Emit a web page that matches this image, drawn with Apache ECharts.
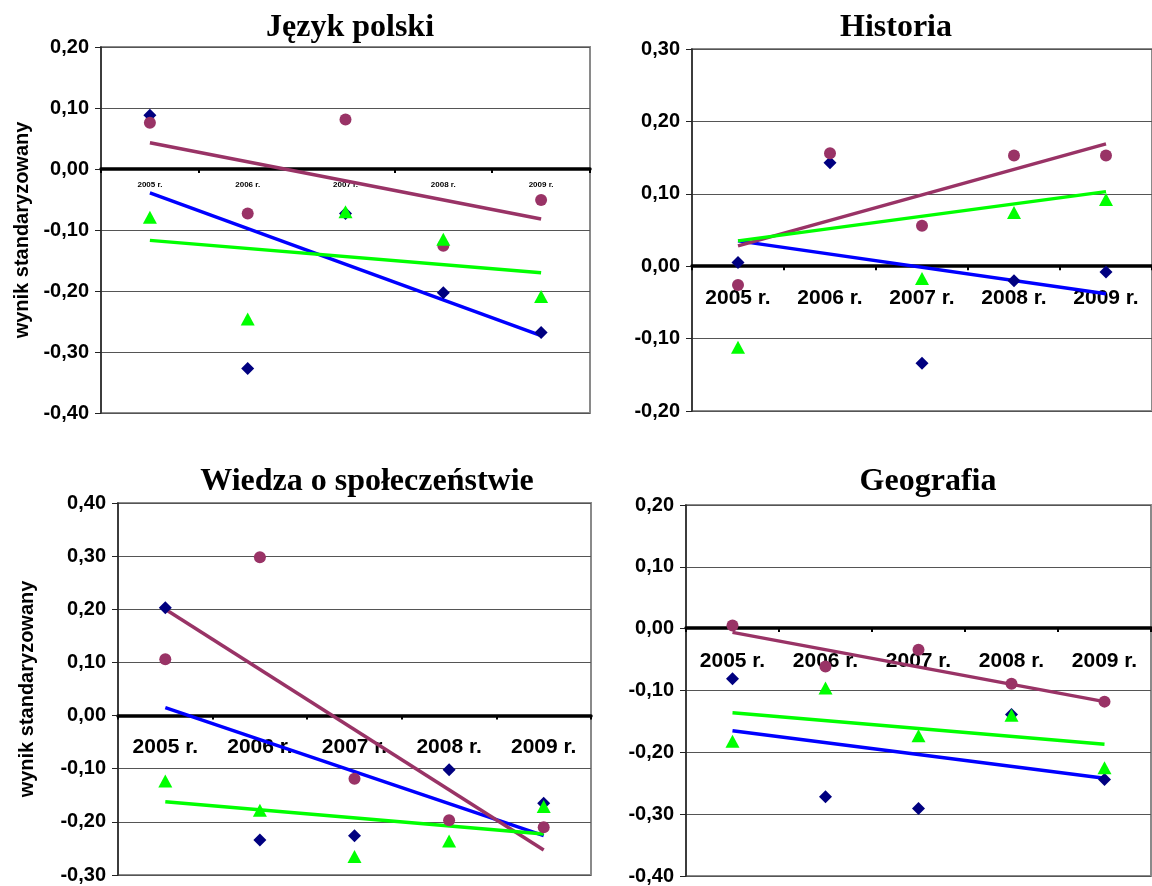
<!DOCTYPE html>
<html>
<head>
<meta charset="utf-8">
<script src="https://cdn.jsdelivr.net/npm/echarts@6/dist/echarts.min.js"></script>
<style>html,body{margin:0;padding:0;background:#fff}#c{width:1152px;height:886px}</style>
</head>
<body>
<div id="c"></div>
<script>
// ---- data ----
const categories = ['2005 r.', '2006 r.', '2007 r.', '2008 r.', '2009 r.'];
const panelTitles = ['Język polski', 'Historia', 'Wiedza o społeczeństwie', 'Geografia'];
const yAxisTitle = 'wynik standaryzowany';

// Język polski
const polskiRange = [-0.4, 0.2];
const polskiDiamond = [0.088, -0.327, -0.073, -0.203, -0.268];
const polskiCircle = [0.076, -0.073, 0.081, -0.126, -0.051];
const polskiTriangle = [-0.079, -0.246, -0.070, -0.115, -0.209];
const polskiTrendDiamond = [-0.039, -0.273];
const polskiTrendCircle = [0.043, -0.082];
const polskiTrendTriangle = [-0.117, -0.170];

// Historia
const historiaRange = [-0.2, 0.3];
const historiaDiamond = [0.005, 0.143, -0.134, -0.020, -0.008];
const historiaCircle = [-0.026, 0.156, 0.056, 0.153, 0.153];
const historiaTriangle = [-0.112, null, -0.017, 0.074, 0.092];
const historiaTrendDiamond = [0.035, -0.038];
const historiaTrendCircle = [0.028, 0.169];
const historiaTrendTriangle = [0.035, 0.103];

// Wiedza o społeczeństwie
const wosRange = [-0.3, 0.4];
const wosDiamond = [0.203, -0.234, -0.226, -0.102, -0.165];
const wosCircle = [0.106, 0.298, -0.119, -0.197, -0.210];
const wosTriangle = [-0.123, -0.178, -0.265, -0.236, -0.171];
const wosTrendDiamond = [0.015, -0.226];
const wosTrendCircle = [0.200, -0.253];
const wosTrendTriangle = [-0.162, -0.223];

// Geografia
const geoRange = [-0.4, 0.2];
const geoDiamond = [-0.081, -0.272, -0.291, -0.139, -0.244];
const geoCircle = [0.005, -0.061, -0.034, -0.089, -0.118];
const geoTriangle = [-0.182, -0.096, -0.173, -0.140, -0.225];
const geoTrendDiamond = [-0.165, -0.242];
const geoTrendCircle = [-0.006, -0.118];
const geoTrendTriangle = [-0.136, -0.187];

// ---- layout / style ----
const NAVY = '#000080', MAROON = '#993366', GREEN = '#00FF00', BLUE = '#0000FF';
const SANS = "Arial, 'Liberation Sans', sans-serif";
const SERIF = "'Times New Roman', 'Liberation Serif', serif";

const panels = [
  { range: polskiRange, d: polskiDiamond, c: polskiCircle, t: polskiTriangle,
    td: polskiTrendDiamond, tc: polskiTrendCircle, tt: polskiTrendTriangle,
    grid: { left: 101, top: 47, width: 489, height: 366 }, xFont: 8, xMargin: 12,
    yName: true, nameGap: 69, title: [350, 28] },
  { range: historiaRange, d: historiaDiamond, c: historiaCircle, t: historiaTriangle,
    td: historiaTrendDiamond, tc: historiaTrendCircle, tt: historiaTrendTriangle,
    grid: { left: 692, top: 49, width: 469, height: 362 }, xFont: 21, xMargin: 22,
    yName: false, title: [896, 28] },
  { range: wosRange, d: wosDiamond, c: wosCircle, t: wosTriangle,
    td: wosTrendDiamond, tc: wosTrendCircle, tt: wosTrendTriangle,
    grid: { left: 118, top: 503, width: 473, height: 372 }, xFont: 21, xMargin: 21,
    yName: true, nameGap: 81, title: [367, 482] },
  { range: geoRange, d: geoDiamond, c: geoCircle, t: geoTriangle,
    td: geoTrendDiamond, tc: geoTrendCircle, tt: geoTrendTriangle,
    grid: { left: 686, top: 505, width: 465, height: 372 }, xFont: 21, xMargin: 23,
    yName: false, title: [928, 482] }
];

const option = { animation: false, backgroundColor: '#fff', grid: [], xAxis: [], yAxis: [], series: [], graphic: [] };

function trendData(pair) { return [[0, pair[0]], [categories.length - 1, pair[1]]]; }

panels.forEach((p, i) => {
  const g = p.grid;
  // distance from the grid bottom up to the value 0 of the y axis
  const zeroFromBottom = g.height * (0 - p.range[0]) / (p.range[1] - p.range[0]);
  option.grid.push(Object.assign({ show: true, borderColor: '#8a8a8a', borderWidth: 2, backgroundColor: '#fff' }, g));
  option.xAxis.push({
    type: 'category', gridIndex: i, data: categories, boundaryGap: true, position: 'bottom',
    offset: -zeroFromBottom,
    axisLine: { onZero: false, lineStyle: { color: '#000', width: 3.5 } },
    axisTick: { show: true, length: 4, alignWithLabel: false, lineStyle: { color: '#000', width: 2 } },
    axisLabel: { interval: 0, margin: p.xMargin, color: '#000', fontFamily: SANS, fontWeight: 'bold', fontSize: p.xFont },
    splitLine: { show: false }
  });
  option.yAxis.push({
    type: 'value', gridIndex: i, min: p.range[0], max: p.range[1], interval: 0.1,
    name: p.yName ? yAxisTitle : '', nameLocation: 'middle', nameGap: p.nameGap || 0, nameRotate: 90,
    nameTextStyle: { color: '#000', fontFamily: SANS, fontWeight: 'bold', fontSize: 20 },
    axisLine: { show: true, onZero: false, lineStyle: { color: '#222', width: 1.5 } },
    axisTick: { show: true, length: 6, lineStyle: { color: '#222', width: 1 } },
    axisLabel: { margin: 12, color: '#000', fontFamily: SANS, fontWeight: 'bold', fontSize: 20,
      formatter: v => v.toFixed(2).replace('.', ',').replace('-0,00', '0,00') },
    splitLine: { show: true, lineStyle: { color: '#555', width: 1 } }
  });
  const lineBase = { type: 'line', xAxisIndex: i, yAxisIndex: i, symbol: 'none', z: 2, silent: true };
  option.series.push(Object.assign({ name: 'trend A ' + i, data: trendData(p.td), lineStyle: { color: BLUE, width: 3.5 } }, lineBase));
  option.series.push(Object.assign({ name: 'trend B ' + i, data: trendData(p.tc), lineStyle: { color: MAROON, width: 3.5 } }, lineBase));
  option.series.push(Object.assign({ name: 'trend C ' + i, data: trendData(p.tt), lineStyle: { color: GREEN, width: 3.5 } }, lineBase));
  const scBase = { type: 'scatter', xAxisIndex: i, yAxisIndex: i, z: 3, clip: true };
  option.series.push(Object.assign({ name: 'A ' + i, data: p.d, symbol: 'diamond', symbolSize: [13, 13], itemStyle: { color: NAVY, opacity: 1 } }, scBase));
  option.series.push(Object.assign({ name: 'B ' + i, data: p.c, symbol: 'circle', symbolSize: 12, itemStyle: { color: MAROON, opacity: 1 } }, scBase));
  option.series.push(Object.assign({ name: 'C ' + i, data: p.t, symbol: 'triangle', symbolSize: [14, 13], itemStyle: { color: GREEN, opacity: 1 } }, scBase));
  option.graphic.push({
    type: 'text', x: p.title[0], y: p.title[1], z: 10,
    style: { text: panelTitles[i], fill: '#000', font: 'bold 32px ' + SERIF, align: 'center', verticalAlign: 'middle' }
  });
});

const chart = echarts.init(document.getElementById('c'), null, { renderer: 'canvas' });
chart.setOption(option);
</script>
</body>
</html>
